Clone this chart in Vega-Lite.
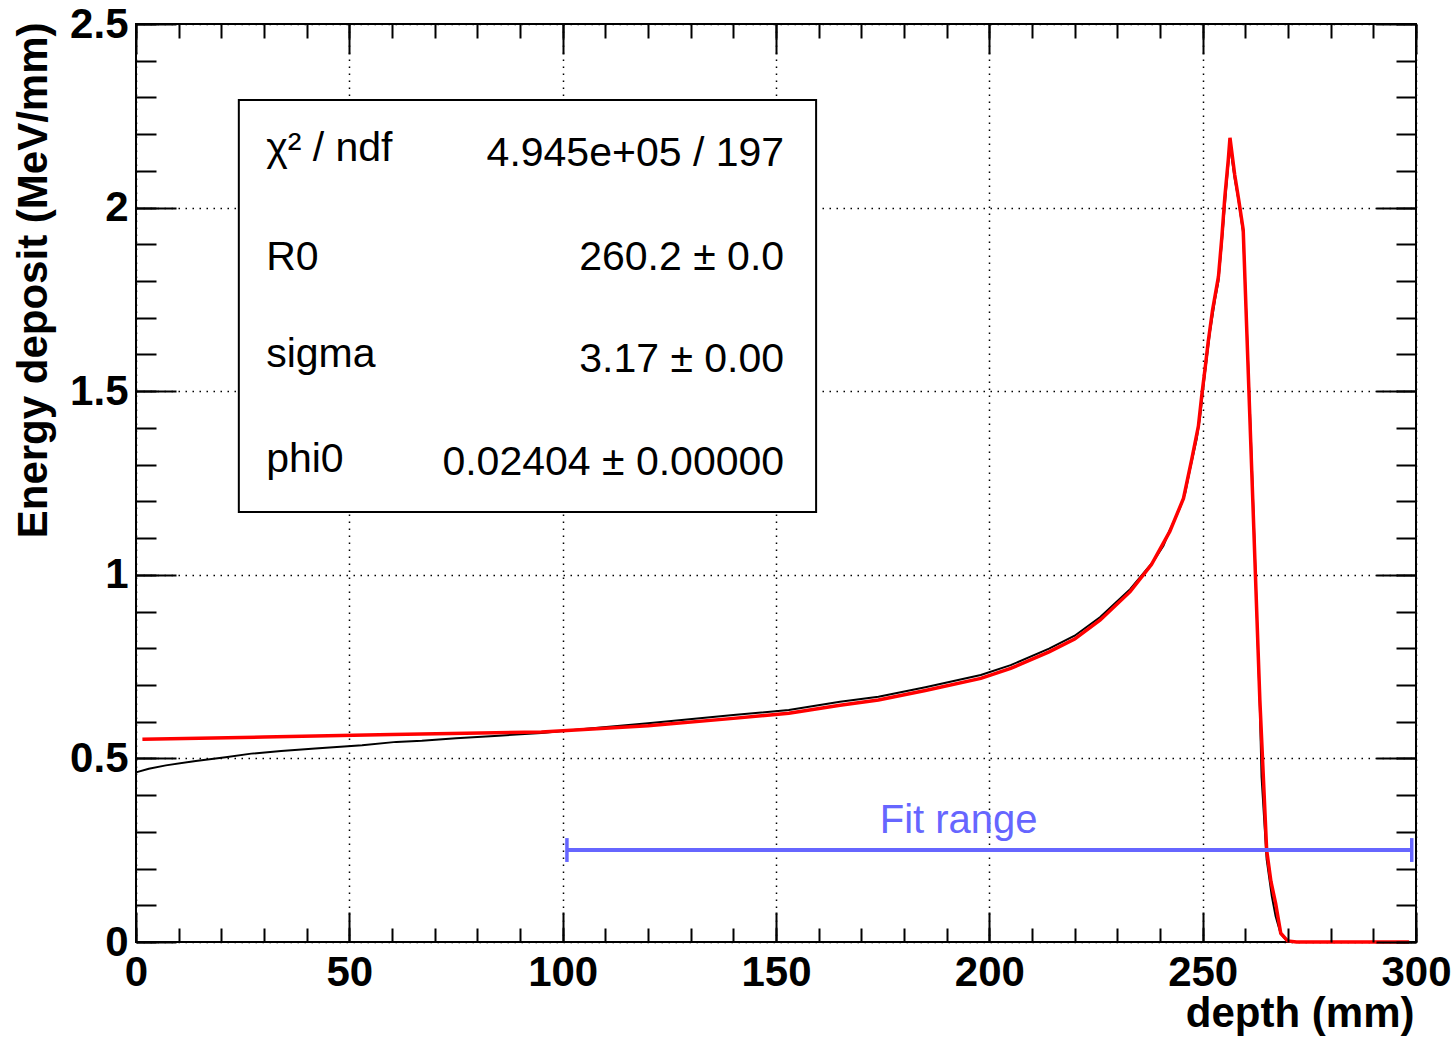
{
  "$schema": "https://vega.github.io/schema/vega-lite/v6.json",
  "width": 1280,
  "height": 918,
  "autosize": {"type": "none"},
  "padding": {"left": 136, "top": 24, "right": 36, "bottom": 95},
  "background": "white",
  "config": {
    "view": {"stroke": "black", "strokeWidth": 2},
    "font": "Liberation Sans",
    "axis": {"labelFont": "Liberation Sans", "titleFont": "Liberation Sans", "labelColor": "black", "titleColor": "black"}
  },
  "datasets": {
    "hist": [
      {"x": 0, "y": 0.462}, {"x": 3, "y": 0.472}, {"x": 7, "y": 0.481}, {"x": 14, "y": 0.493},
      {"x": 21, "y": 0.503}, {"x": 27, "y": 0.513}, {"x": 34, "y": 0.520}, {"x": 42, "y": 0.527},
      {"x": 53, "y": 0.536}, {"x": 61, "y": 0.545}, {"x": 67, "y": 0.548}, {"x": 75, "y": 0.555},
      {"x": 85, "y": 0.562}, {"x": 95, "y": 0.569}, {"x": 105, "y": 0.580}, {"x": 120, "y": 0.596},
      {"x": 140, "y": 0.618}, {"x": 153, "y": 0.632}, {"x": 165, "y": 0.654}, {"x": 174, "y": 0.668},
      {"x": 185, "y": 0.694}, {"x": 198, "y": 0.727}, {"x": 205, "y": 0.754}, {"x": 214, "y": 0.799},
      {"x": 220, "y": 0.834}, {"x": 226, "y": 0.885}, {"x": 233, "y": 0.961}, {"x": 238.4, "y": 1.036},
      {"x": 240.8, "y": 1.079}, {"x": 242.3, "y": 1.122}, {"x": 243.5, "y": 1.151}, {"x": 244.7, "y": 1.183},
      {"x": 245.9, "y": 1.222}, {"x": 247, "y": 1.285}, {"x": 248.6, "y": 1.37}, {"x": 249.4, "y": 1.43},
      {"x": 250.5, "y": 1.545}, {"x": 251.7, "y": 1.66}, {"x": 252.9, "y": 1.75}, {"x": 253.7, "y": 1.80},
      {"x": 254.5, "y": 1.905}, {"x": 255.5, "y": 2.05}, {"x": 256.4, "y": 2.17}, {"x": 257.5, "y": 2.08},
      {"x": 258.4, "y": 2.02}, {"x": 259.5, "y": 1.93}, {"x": 261.1, "y": 1.44},
      {"x": 262, "y": 1.14}, {"x": 263.4, "y": 0.64}, {"x": 263.8, "y": 0.45}, {"x": 265, "y": 0.225},
      {"x": 266.2, "y": 0.125}, {"x": 267.1, "y": 0.07}, {"x": 268.3, "y": 0.022}, {"x": 269.7, "y": 0.004}, {"x": 271, "y": 0},
      {"x": 299.5, "y": 0}
    ],
    "fit": [
      {"x": 1.5, "y": 0.552}, {"x": 30, "y": 0.558}, {"x": 60, "y": 0.565}, {"x": 95, "y": 0.572},
      {"x": 100, "y": 0.575}, {"x": 120, "y": 0.589}, {"x": 140, "y": 0.609}, {"x": 153, "y": 0.623},
      {"x": 165, "y": 0.645}, {"x": 174, "y": 0.659}, {"x": 185, "y": 0.685}, {"x": 198, "y": 0.718},
      {"x": 205, "y": 0.745}, {"x": 214, "y": 0.790}, {"x": 220, "y": 0.825}, {"x": 226, "y": 0.877},
      {"x": 233, "y": 0.954}, {"x": 238, "y": 1.028}, {"x": 242.3, "y": 1.118}, {"x": 245.5, "y": 1.208},
      {"x": 247.4, "y": 1.312}, {"x": 249, "y": 1.405}, {"x": 249.8, "y": 1.49}, {"x": 250.6, "y": 1.565},
      {"x": 251.3, "y": 1.635}, {"x": 252.3, "y": 1.72}, {"x": 253.7, "y": 1.812}, {"x": 254.5, "y": 1.92},
      {"x": 255.2, "y": 2.03}, {"x": 256, "y": 2.13}, {"x": 256.4, "y": 2.19}, {"x": 257.5, "y": 2.09},
      {"x": 258.4, "y": 2.025}, {"x": 259.5, "y": 1.94}, {"x": 263.4, "y": 0.66}, {"x": 265, "y": 0.25},
      {"x": 266, "y": 0.165}, {"x": 267.1, "y": 0.105}, {"x": 268.3, "y": 0.024}, {"x": 269.9, "y": 0.003},
      {"x": 272, "y": 0}, {"x": 298.4, "y": 0}
    ],
    "fitrange": [{"x": 101, "x2": 299, "y": 0.2505, "label": "Fit range", "lx": 192.8, "ly": 0.297}],
    "caps": [{"x": 101, "ylo": 0.218, "yhi": 0.283}, {"x": 299, "ylo": 0.218, "yhi": 0.283}],
    "statbox": [{"x": 24.1, "x2": 159.4, "y": 2.293, "y2": 1.171}],
    "stats": [
      {"col": "name", "text": "χ² / ndf", "x": 30.5, "y": 2.127},
      {"col": "name", "text": "R0", "x": 30.5, "y": 1.830},
      {"col": "name", "text": "sigma", "x": 30.5, "y": 1.566},
      {"col": "name", "text": "phi0", "x": 30.5, "y": 1.280},
      {"col": "value", "text": "4.945e+05 / 197", "x": 151.9, "y": 2.113},
      {"col": "value", "text": "260.2 ± 0.0", "x": 151.9, "y": 1.830},
      {"col": "value", "text": "3.17 ± 0.00", "x": 151.9, "y": 1.552},
      {"col": "value", "text": "0.02404 ± 0.00000", "x": 151.9, "y": 1.272}
    ]
  },
  "resolve": {"axis": {"x": "independent", "y": "independent"}},
  "layer": [
    {
      "data": {"name": "hist"},
      "mark": {"type": "line", "color": "black", "strokeWidth": 2},
      "encoding": {
        "x": {"field": "x", "type": "quantitative", "scale": {"domain": [0, 300], "nice": false, "zero": false},
          "axis": {"orient": "bottom", "values": [0, 50, 100, 150, 200, 250, 300], "ticks": false, "domain": false, "format": "d",
            "grid": true, "gridColor": "black", "gridDash": [1.5, 5.5], "gridWidth": 1.5, "gridOpacity": 1,
            "labelFontSize": 42, "labelFontWeight": "bold", "labelPadding": 10, "labelFlush": false, "labelOverlap": false,
            "title": "depth (mm)", "titleFontSize": 42, "titleFontWeight": "bold", "titleX": 1278, "titleY": 84,
            "titleAlign": "right", "titleBaseline": "alphabetic", "titleAngle": 0}},
        "y": {"field": "y", "type": "quantitative", "scale": {"domain": [0, 2.5], "nice": false, "zero": false},
          "axis": {"orient": "left", "values": [0, 0.5, 1, 1.5, 2, 2.5], "ticks": false, "domain": false, "format": "~g",
            "grid": true, "gridColor": "black", "gridDash": [1.5, 5.5], "gridWidth": 1.5, "gridOpacity": 1,
            "labelFontSize": 42, "labelFontWeight": "bold", "labelPadding": 8, "labelFlush": false, "labelOverlap": false,
            "title": "Energy deposit (MeV/mm)", "titleFontSize": 42, "titleFontWeight": "bold", "titleX": -90, "titleY": -2,
            "titleAlign": "right", "titleBaseline": "alphabetic", "titleAngle": -90}}
      }
    },
    {
      "data": {"name": "fit"},
      "mark": {"type": "line", "color": "#ff0000", "strokeWidth": 3.5},
      "encoding": {
        "x": {"field": "x", "type": "quantitative",
          "axis": {"orient": "bottom", "values": [0, 50, 100, 150, 200, 250, 300], "labels": false, "domain": false, "grid": false,
            "ticks": true, "tickSize": -30, "tickWidth": 2, "tickColor": "black", "title": null, "zindex": 1}},
        "y": {"field": "y", "type": "quantitative",
          "axis": {"orient": "left", "values": [0, 0.5, 1, 1.5, 2, 2.5], "labels": false, "domain": false, "grid": false,
            "ticks": true, "tickSize": -40, "tickWidth": 2, "tickColor": "black", "title": null, "zindex": 1}}
      }
    },
    {
      "data": {"name": "fitrange"},
      "mark": {"type": "rule", "color": "#6666ff", "strokeWidth": 4},
      "encoding": {
        "x": {"field": "x", "type": "quantitative",
          "axis": {"orient": "bottom", "values": [0, 10, 20, 30, 40, 50, 60, 70, 80, 90, 100, 110, 120, 130, 140, 150, 160, 170, 180, 190, 200, 210, 220, 230, 240, 250, 260, 270, 280, 290, 300],
            "labels": false, "domain": false, "grid": false, "ticks": true, "tickSize": -14, "tickWidth": 2, "tickColor": "black", "title": null, "zindex": 1}},
        "x2": {"field": "x2"},
        "y": {"field": "y", "type": "quantitative",
          "axis": {"orient": "left", "values": [0, 0.1, 0.2, 0.3, 0.4, 0.5, 0.6, 0.7, 0.8, 0.9, 1, 1.1, 1.2, 1.3, 1.4, 1.5, 1.6, 1.7, 1.8, 1.9, 2, 2.1, 2.2, 2.3, 2.4, 2.5],
            "labels": false, "domain": false, "grid": false, "ticks": true, "tickSize": -20, "tickWidth": 2, "tickColor": "black", "title": null, "zindex": 1}}
      }
    },
    {
      "data": {"name": "caps"},
      "mark": {"type": "rule", "color": "#6666ff", "strokeWidth": 3.5},
      "encoding": {
        "x": {"field": "x", "type": "quantitative",
          "axis": {"orient": "top", "values": [0, 50, 100, 150, 200, 250, 300], "labels": false, "domain": false, "grid": false,
            "ticks": true, "tickSize": -30, "tickWidth": 2, "tickColor": "black", "title": null, "zindex": 1}},
        "y": {"field": "ylo", "type": "quantitative",
          "axis": {"orient": "right", "values": [0, 0.5, 1, 1.5, 2, 2.5], "labels": false, "domain": false, "grid": false,
            "ticks": true, "tickSize": -40, "tickWidth": 2, "tickColor": "black", "title": null, "zindex": 1}},
        "y2": {"field": "yhi"}
      }
    },
    {
      "data": {"name": "fitrange"},
      "mark": {"type": "text", "color": "#6666ff", "fontSize": 40, "font": "Liberation Sans", "align": "center", "baseline": "alphabetic"},
      "encoding": {
        "x": {"field": "lx", "type": "quantitative",
          "axis": {"orient": "top", "values": [0, 10, 20, 30, 40, 50, 60, 70, 80, 90, 100, 110, 120, 130, 140, 150, 160, 170, 180, 190, 200, 210, 220, 230, 240, 250, 260, 270, 280, 290, 300],
            "labels": false, "domain": false, "grid": false, "ticks": true, "tickSize": -14, "tickWidth": 2, "tickColor": "black", "title": null, "zindex": 1}},
        "y": {"field": "ly", "type": "quantitative",
          "axis": {"orient": "right", "values": [0, 0.1, 0.2, 0.3, 0.4, 0.5, 0.6, 0.7, 0.8, 0.9, 1, 1.1, 1.2, 1.3, 1.4, 1.5, 1.6, 1.7, 1.8, 1.9, 2, 2.1, 2.2, 2.3, 2.4, 2.5],
            "labels": false, "domain": false, "grid": false, "ticks": true, "tickSize": -20, "tickWidth": 2, "tickColor": "black", "title": null, "zindex": 1}},
        "text": {"field": "label"}
      }
    },
    {
      "data": {"name": "statbox"},
      "mark": {"type": "rect", "fill": "white", "stroke": "black", "strokeWidth": 2},
      "encoding": {
        "x": {"field": "x", "type": "quantitative", "axis": null},
        "x2": {"field": "x2"},
        "y": {"field": "y", "type": "quantitative", "axis": null},
        "y2": {"field": "y2"}
      }
    },
    {
      "data": {"name": "stats"},
      "transform": [{"filter": "datum.col === 'name'"}],
      "mark": {"type": "text", "color": "black", "fontSize": 41, "font": "Liberation Sans", "align": "left", "baseline": "alphabetic"},
      "encoding": {
        "x": {"field": "x", "type": "quantitative", "axis": null},
        "y": {"field": "y", "type": "quantitative", "axis": null},
        "text": {"field": "text"}
      }
    },
    {
      "data": {"name": "stats"},
      "transform": [{"filter": "datum.col === 'value'"}],
      "mark": {"type": "text", "color": "black", "fontSize": 41, "font": "Liberation Sans", "align": "right", "baseline": "alphabetic"},
      "encoding": {
        "x": {"field": "x", "type": "quantitative", "axis": null},
        "y": {"field": "y", "type": "quantitative", "axis": null},
        "text": {"field": "text"}
      }
    }
  ]
}
